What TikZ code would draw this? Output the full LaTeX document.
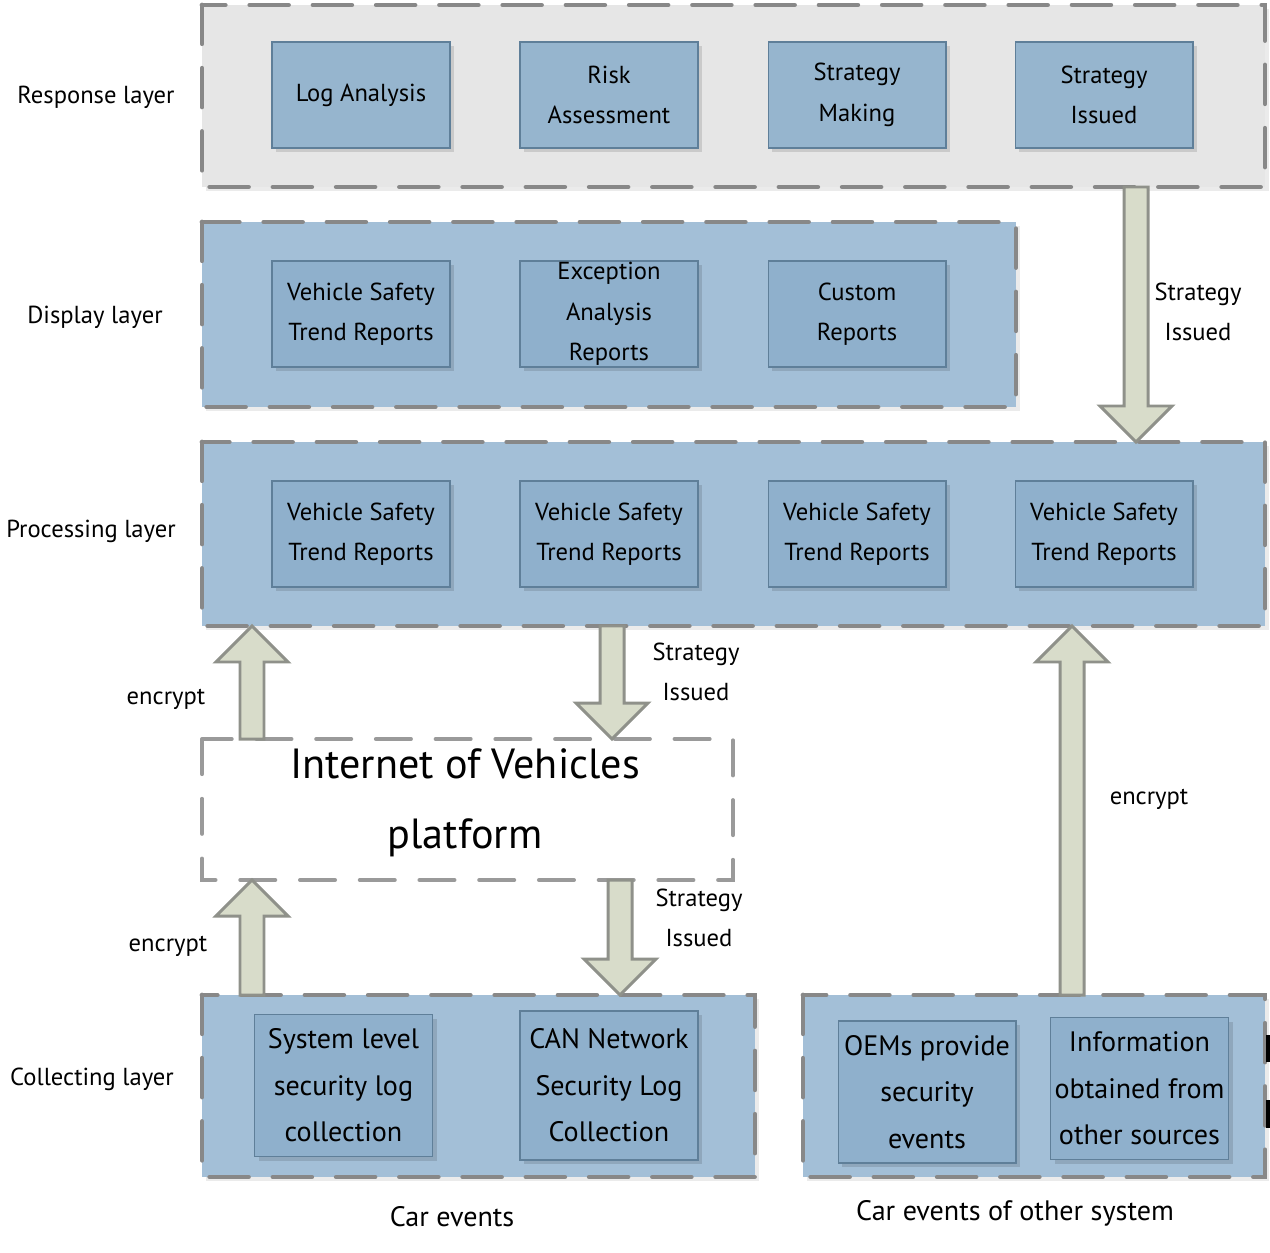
\documentclass[tikz,border=0pt]{standalone}
\usepackage{fontspec}
\setmainfont{PT Sans}
\usetikzlibrary{shadows}
\definecolor{layerblue}{HTML}{A3BFD7}
\definecolor{layergray}{HTML}{E6E6E6}
\definecolor{boxblue}{HTML}{8FB0CC}
\definecolor{boxgray}{HTML}{96B5CE}
\definecolor{boxline}{HTML}{5F7F99}
\definecolor{dashgray}{HTML}{888888}
\definecolor{arrfill}{HTML}{D8DCCA}
\definecolor{arrline}{HTML}{8F918A}
\newcommand\mydownarrow[3]{% x, top, tip
  \draw[blockarrow] (#1-12,#2) -- (#1-12,#3-36) -- (#1-36,#3-36) -- (#1,#3) -- (#1+36,#3-36) -- (#1+12,#3-36) -- (#1+12,#2) -- cycle;}
\newcommand\myuparrow[3]{% x, bottom, tip
  \draw[blockarrow] (#1-12,#2) -- (#1-12,#3+36) -- (#1-36,#3+36) -- (#1,#3) -- (#1+36,#3+36) -- (#1+12,#3+36) -- (#1+12,#2) -- cycle;}
\begin{document}
\begin{tikzpicture}[x=0.02cm,y=-0.02cm,
  layerbox/.style={draw=dashgray, line width=2.8pt, dash pattern=on 22pt off 14pt, line cap=round},
  ibox/.style={draw=boxline, line width=0.6pt, fill=boxblue, align=center, inner sep=0pt,
     minimum width=3.56cm, minimum height=2.12cm,
     drop shadow={shadow xshift=2.5pt, shadow yshift=-2.5pt, fill=black, opacity=0.12},
     font=\fontsize{14}{23}\selectfont},
  cbox/.style={ibox, font=\fontsize{16}{26.4}\selectfont, minimum height=2.84cm},
  lbl/.style={font=\fontsize{14}{23}\selectfont, align=center, inner sep=0pt},
  blockarrow/.style={fill=arrfill, draw=arrline, line width=1.7pt, line join=miter}]
\useasboundingbox (0,0) rectangle (1270,1253);
\fill[white] (0,0) rectangle (1270,1253);

% layer backgrounds with faint shadows
\fill[black!8] (206,9) rectangle (1269,191);
\fill[layergray] (202,5) rectangle (1265,187);
\draw[layerbox] (202,5) rectangle (1265,187);

\fill[black!8] (206,226) rectangle (1020,411);
\fill[layerblue] (202,222) rectangle (1016,407);
\draw[layerbox] (202,222) rectangle (1016,407);

\fill[black!8] (206,446) rectangle (1269,630);
\fill[layerblue] (202,442) rectangle (1265,626);
\draw[layerbox] (202,442) rectangle (1265,626);

\draw[draw=dashgray!85, line width=2.2pt, dash pattern=on 20pt off 14pt, line cap=round] (202,739) rectangle (733,880);

\fill[black!8] (206,999) rectangle (759,1181);
\fill[layerblue] (202,995) rectangle (755,1177);
\draw[layerbox] (202,995) rectangle (755,1177);

\fill[black!8] (807,999) rectangle (1269,1181);
\fill[layerblue] (803,995) rectangle (1265,1177);
\draw[layerbox] (803,995) rectangle (1265,1177);

% response layer
\node[ibox, fill=boxgray] (logan) at (361,95) {Log Analysis};
\node[ibox, fill=boxgray] (risk) at (609,95) {Risk\\Assessment};
\node[ibox, fill=boxgray] (smake) at (857,95) {Strategy\\Making};
\node[ibox, fill=boxgray] (sissue) at (1104,95) {Strategy\\Issued};

% display layer
\node[ibox] (d1) at (361,314) {Vehicle Safety\\Trend Reports};
\node[ibox] (d2) at (609,314) {Exception\\Analysis\\Reports};
\node[ibox] (d3) at (857,314) {Custom\\Reports};

% processing layer
\node[ibox] (p1) at (361,534) {Vehicle Safety\\Trend Reports};
\node[ibox] (p2) at (609,534) {Vehicle Safety\\Trend Reports};
\node[ibox] (p3) at (857,534) {Vehicle Safety\\Trend Reports};
\node[ibox] (p4) at (1104,534) {Vehicle Safety\\Trend Reports};

% collecting layer
\node[cbox] (c1) at (343.5,1085.5) {System level\\security log\\collection};
\node[cbox, minimum height=2.98cm] (c2) at (609,1085.5) {CAN Network\\Security Log\\Collection};
\node[cbox] (c3) at (927,1092) {OEMs provide\\security\\events};
\node[cbox] (c4) at (1139.5,1088.5) {Information\\obtained from\\other sources};

% platform
\node[align=center, inner sep=0pt, font=\fontsize{24}{40}\selectfont] (iov) at (465,803) {Internet of Vehicles\\platform};

% layer labels
\node[lbl] (lr) at (96,97) {Response layer};
\node[lbl] (ld) at (95,317) {Display layer};
\node[lbl] (lp) at (91,531) {Processing layer};
\node[lbl] (lc) at (92,1079) {Collecting layer};

% block arrows
\mydownarrow{1136}{187}{442}
\myuparrow{252}{739}{626}
\mydownarrow{612}{626}{739}
\myuparrow{252}{995}{880}
\mydownarrow{620}{880}{995}
\myuparrow{1072}{995}{626}

% arrow labels
\node[lbl] (si1) at (1198,312) {Strategy\\Issued};
\node[lbl] (si2) at (696,672) {Strategy\\Issued};
\node[lbl] (si3) at (699,918) {Strategy\\Issued};
\node[lbl] (en1) at (166,699) {encrypt};
\node[lbl] (en2) at (168,946) {encrypt};
\node[lbl] (en3) at (1149,799) {encrypt};

% bottom captions
\node[lbl, font=\fontsize{16}{20}\selectfont] (car) at (452,1217) {Car events};
\node[lbl, font=\fontsize{16}{20}\selectfont] (caro) at (1015,1213) {Car events of other system};

% edge marks
\fill[black] (1266,1035) rectangle (1270,1062);
\fill[black] (1266,1100) rectangle (1270,1128);
\end{tikzpicture}
\end{document}
